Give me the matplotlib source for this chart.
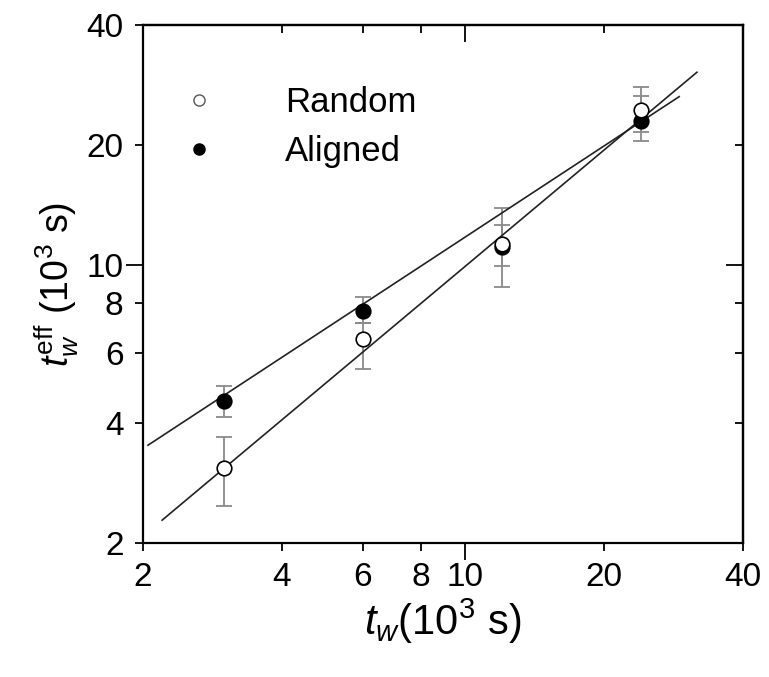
import numpy as np
import matplotlib
matplotlib.use('Agg')
import matplotlib.pyplot as plt
from matplotlib.ticker import FixedLocator, NullFormatter, FixedFormatter

plt.rcParams['font.family'] = ['Liberation Sans', 'DejaVu Sans']
plt.rcParams['mathtext.fontset'] = 'custom'
plt.rcParams['mathtext.rm'] = 'Liberation Sans'
plt.rcParams['mathtext.it'] = 'Liberation Sans:italic'

# data (10^3 s)
tw = [3, 6, 12, 24]
random_y = [3.08, 6.5, 11.3, 24.5]
random_lo = [2.47, 5.46, 8.8, 20.5]
random_hi = [3.69, 7.13, 13.9, 27.9]
aligned_y = [4.54, 7.65, 11.1, 23.0]
aligned_lo = [4.14, 7.13, 9.9, 21.5]
aligned_hi = [4.95, 8.28, 12.55, 26.6]

# power-law fits y = a * x^b
random_fit = (1.062, 0.97, 2.2, 31.8)
aligned_fit = (2.04, 0.76, 2.05, 29.1)

major_ticks = [10]
minor_ticks = [2, 4, 6, 8, 20, 40]

fig = plt.figure(figsize=(7.69, 6.77), dpi=100)
ax = fig.add_axes([0.186, 0.198, 0.780, 0.765])
ax.set_xscale('log')
ax.set_yscale('log')

for a, b, x0, x1 in [random_fit, aligned_fit]:
    xs = np.geomspace(x0, x1, 50)
    ax.plot(xs, a * xs ** b, color='#222222', lw=1.2, zorder=2)

for y, lo, hi, fc in [(aligned_y, aligned_lo, aligned_hi, 'black'),
                      (random_y, random_lo, random_hi, 'white')]:
    y = np.array(y)
    err = [y - np.array(lo), np.array(hi) - y]
    ax.errorbar(tw, y, yerr=err, fmt='none', ecolor='#8a8a8a', elinewidth=1.3,
                capsize=6, capthick=1.3, zorder=1)
    ax.plot(tw, y, 'o', ms=10.5, mfc=fc, mec='black', mew=1.2, zorder=3)

ax.set_xlim(2, 40)
ax.set_ylim(2, 40)

for axis in [ax.xaxis, ax.yaxis]:
    axis.set_major_locator(FixedLocator(major_ticks))
    axis.set_minor_locator(FixedLocator(minor_ticks))
    axis.set_major_formatter(FixedFormatter([str(t) for t in major_ticks]))
    axis.set_minor_formatter(FixedFormatter([str(t) for t in minor_ticks]))

ax.tick_params(which='both', direction='out', labelsize=24, width=1.3,
               colors='black')
ax.tick_params(which='major', length=12, pad=2)
ax.tick_params(which='minor', length=6, pad=8)

# inward ticks on top/right
for side in ['top', 'right']:
    if side == 'top':
        sec = ax.secondary_xaxis('top')
        sax = sec.xaxis
    else:
        sec = ax.secondary_yaxis('right')
        sax = sec.yaxis
    sax.set_major_locator(FixedLocator(major_ticks))
    sax.set_minor_locator(FixedLocator([4, 6, 8, 20]))
    sax.set_major_formatter(NullFormatter())
    sax.set_minor_formatter(NullFormatter())
    sec.tick_params(which='both', direction='in', width=1.3)
    sec.tick_params(which='major', length=12)
    sec.tick_params(which='minor', length=6)
    for sp in sec.spines.values():
        sp.set_linewidth(1.6)

for sp in ax.spines.values():
    sp.set_linewidth(1.6)

ax.set_xlabel(r'$\mathit{t}_{\mathit{w}}$(10$^3$ s)', fontsize=30, labelpad=2)
ax.set_ylabel(r'$\mathit{t}_{\mathit{w}}^{\rm eff}$ (10$^3$ s)', fontsize=27, labelpad=4)

# legend
ax.plot([], [], 'o', ms=8, mfc='white', mec='#555555', mew=1, label='Random')
ax.plot([], [], 'o', ms=8, mfc='black', mec='black', label='Aligned')
ax.legend(loc='upper left', frameon=False, fontsize=25, handletextpad=1.5,
          borderaxespad=0.2, labelspacing=0.45, bbox_to_anchor=(0.0, 0.922))

fig.savefig('out.png', dpi=100)
